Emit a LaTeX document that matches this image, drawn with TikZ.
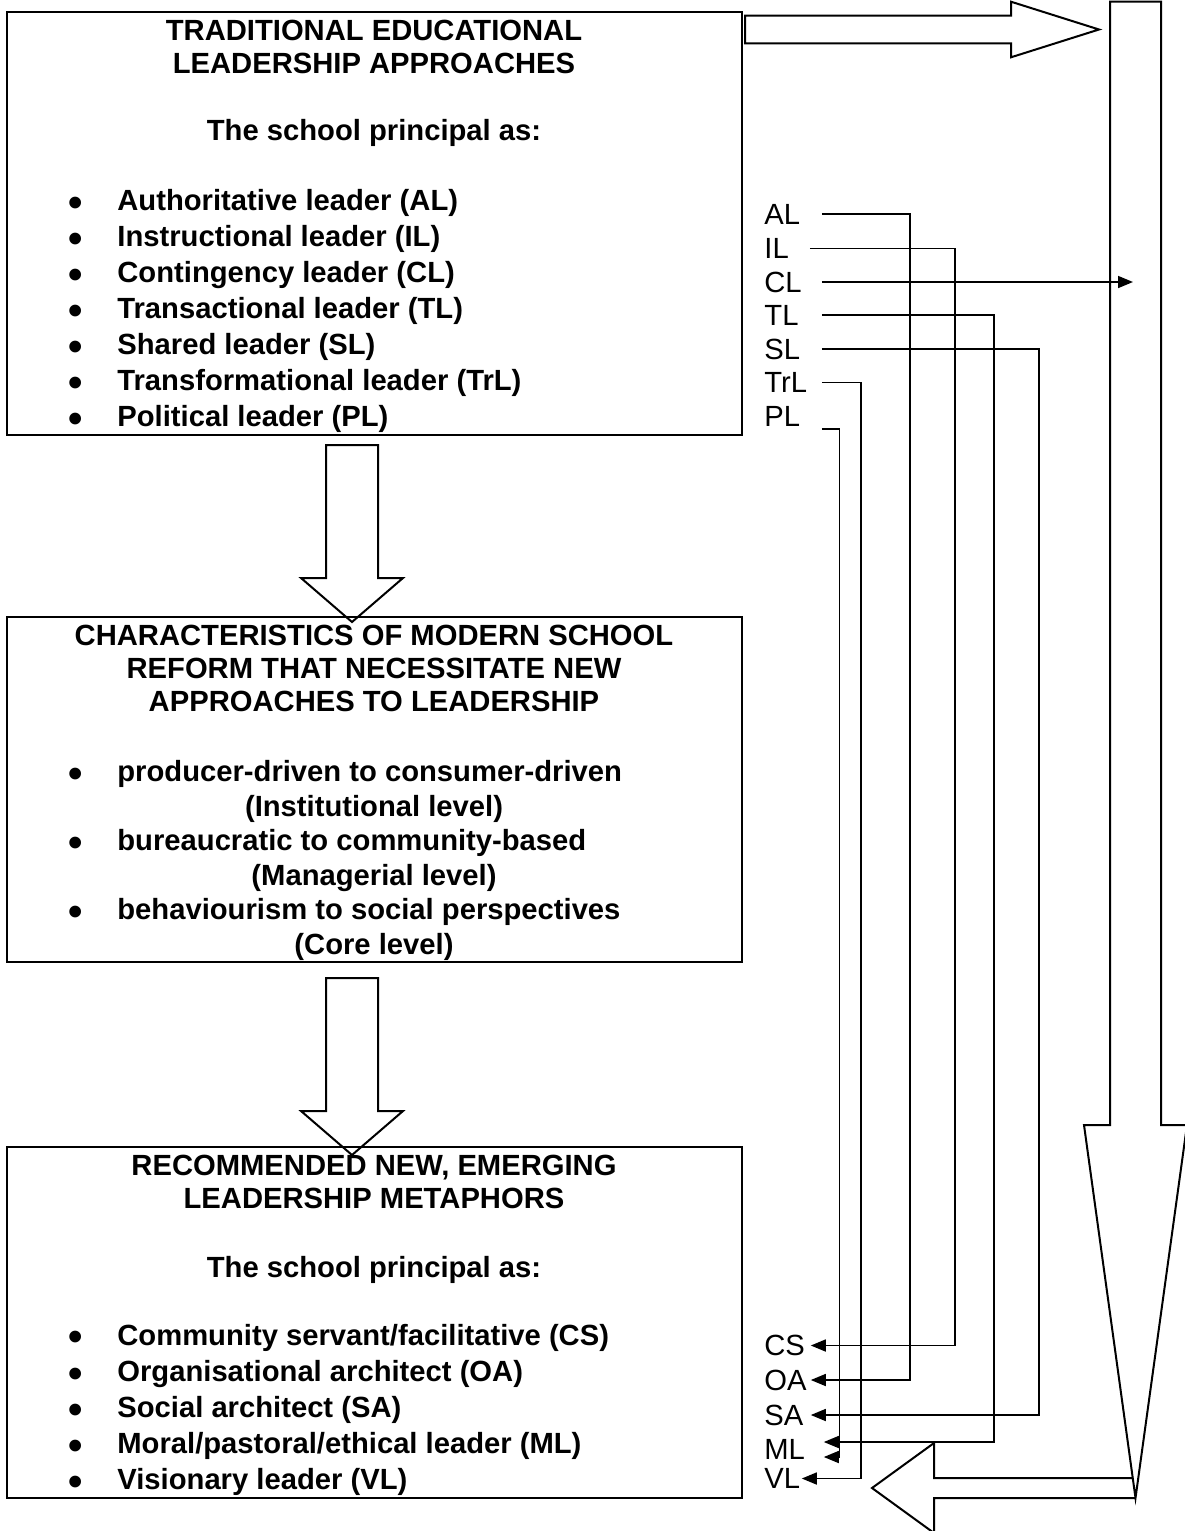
\documentclass[tikz,border=0pt]{standalone}
\usepackage{fontspec}
\setmainfont{Liberation Sans}
\usetikzlibrary{arrows.meta,calc}
\tikzset{
  box/.style={draw=black, line width=1pt},
  blk/.style={draw=black, line width=1pt, line join=miter},
  link/.style={draw=black, line width=0.8pt},
  tip/.style={-{Triangle[length=7.5pt,width=6pt]}},
  head/.style={font=\bfseries\fontsize{14.6}{17}\selectfont, anchor=base, inner sep=0pt},
  item/.style={font=\bfseries\fontsize{14.6}{17}\selectfont, anchor=base west, inner sep=0pt},
  tag/.style={font=\fontsize{14.6}{17}\selectfont, anchor=west, inner sep=0pt, text width=28.5pt},
  tagin/.style={tag, text width=23pt},
}
\newcommand{\bul}{\llap{\raisebox{-2.9pt}{\scalebox{1.4}{\textbullet}}\hskip 17.2pt}}

\begin{document}
\begin{tikzpicture}[x=0.5pt, y=-0.5pt]
  \useasboundingbox (0,0) rectangle (1184,1531);
  % the three boxes
  \draw[box] (7,12) rectangle (742,435);
  \draw[box] (7,617) rectangle (742,962);
  \draw[box] (7,1147) rectangle (742,1498);

  % traditional approaches
  \node[head] (tradA) at (374,40) {TRADITIONAL EDUCATIONAL};
  \node[head] (tradB) at (374,73) {LEADERSHIP APPROACHES};
  \node[head] (tradC) at (374,140) {The school principal as:};
  \node[item] (trad1) at (117,210.7) {\bul Authoritative leader (AL)};
  \node[item] (trad2) at (117,246.7) {\bul Instructional leader (IL)};
  \node[item] (trad3) at (117,282.7) {\bul Contingency leader (CL)};
  \node[item] (trad4) at (117,318.7) {\bul Transactional leader (TL)};
  \node[item] (trad5) at (117,354.7) {\bul Shared leader (SL)};
  \node[item] (trad6) at (117,390.7) {\bul Transformational leader (TrL)};
  \node[item] (trad7) at (117,426.7) {\bul Political leader (PL)};

  % reform characteristics
  \node[head] (refA) at (374,645) {CHARACTERISTICS OF MODERN SCHOOL};
  \node[head] (refB) at (374,678.3) {REFORM THAT NECESSITATE NEW};
  \node[head] (refC) at (374,711.7) {APPROACHES TO LEADERSHIP};
  \node[item] (ref1) at (117,781.5) {\bul producer-driven to consumer-driven};
  \node[head] (ref1b) at (374,816) {(Institutional level)};
  \node[item] (ref2) at (117,850.5) {\bul bureaucratic to community-based};
  \node[head] (ref2b) at (374,885) {(Managerial level)};
  \node[item] (ref3) at (117,919.5) {\bul behaviourism to social perspectives};
  \node[head] (ref3b) at (374,954) {(Core level)};

  % new metaphors
  \node[head] (metA) at (374,1175) {RECOMMENDED NEW, EMERGING};
  \node[head] (metB) at (374,1208) {LEADERSHIP METAPHORS};
  \node[head] (metC) at (374,1277) {The school principal as:};
  \node[item] (met1) at (117,1345) {\bul Community servant/facilitative (CS)};
  \node[item] (met2) at (117,1381.2) {\bul Organisational architect (OA)};
  \node[item] (met3) at (117,1417.4) {\bul Social architect (SA)};
  \node[item] (met4) at (117,1453.6) {\bul Moral/pastoral/ethical leader (ML)};
  \node[item] (met5) at (117,1489.8) {\bul Visionary leader (VL)};

  % block arrows
  \draw[blk] (326,445) -- (378,445) -- (378,578) -- (403,578) -- (352,622) -- (301,578) -- (326,578) -- cycle;
  \draw[blk] (326,978) -- (378,978) -- (378,1111) -- (403,1111) -- (352,1155) -- (301,1111) -- (326,1111) -- cycle;
  \draw[blk] (745,15.7) -- (1011,15.7) -- (1011,1.7) -- (1099,29.5) -- (1011,57.3) -- (1011,43.3) -- (745,43.3) -- cycle;
  \draw[blk] (1110,1.7) -- (1161,1.7) -- (1161,1125) -- (1187,1125) -- (1135.5,1498) -- (1084,1125) -- (1110,1125) -- cycle;
  \draw[blk] (1132.3,1478) -- (934,1478) -- (934,1443) -- (872,1488) -- (934,1533) -- (934,1498) -- (1135.5,1498);

  % short labels
  \node[tag] (AL) at (764,214) {AL};
  \node[tag] (IL) at (764,248.5) {IL};
  \node[tag] (CL) at (764,282) {CL};
  \node[tag] (TL) at (764,315) {TL};
  \node[tag] (SL) at (764,349) {SL};
  \node[tag] (TrL) at (764,382.5) {TrL};
  \node[tag] (PL) at (764,416) {PL};
  \node[tagin] (CS) at (764,1345.5) {CS};
  \node[tagin] (OA) at (764,1380) {OA};
  \node[tagin] (SA) at (764,1415) {SA};
  \node[tagin] (ML) at (764,1449.5) {ML};
  \node[tagin] (VL) at (764,1478.5) {VL};

  \coordinate (cAL) at (910,0);
  \coordinate (cIL) at (955,0);
  \coordinate (cTL) at (994,0);
  \coordinate (cSL) at (1039,0);
  \coordinate (cTrL) at (861,0);
  \coordinate (cPL) at (839.3,0);
  \coordinate (cCL) at (1133,0);
  \coordinate (mlA) at ($(ML.east)+(13,-7.5)$);
  \coordinate (mlB) at ($(ML.east)+(13,7.5)$);

  % connectors
  \draw[link,tip] (AL.east) -| (cAL |- OA.east) -- (OA.east);
  \draw[link,tip] ($(IL.east)+(-12,0)$) -| (cIL |- CS.east) -- (CS.east);
  \draw[link,tip] (CL.east) -- (cCL |- CL.east);
  \draw[link,tip] (TL.east) -| (cTL |- mlA) -- (mlA);
  \draw[link,tip] (SL.east) -| (cSL |- SA.east) -- (SA.east);
  \draw[link,tip] (TrL.east) -| (cTrL |- VL.east) -- ($(VL.east)+(-9,0)$);
  \draw[link,tip] ($(PL.east)+(0,13)$) -| (cPL |- mlB) -- (mlB);
\end{tikzpicture}
\end{document}
